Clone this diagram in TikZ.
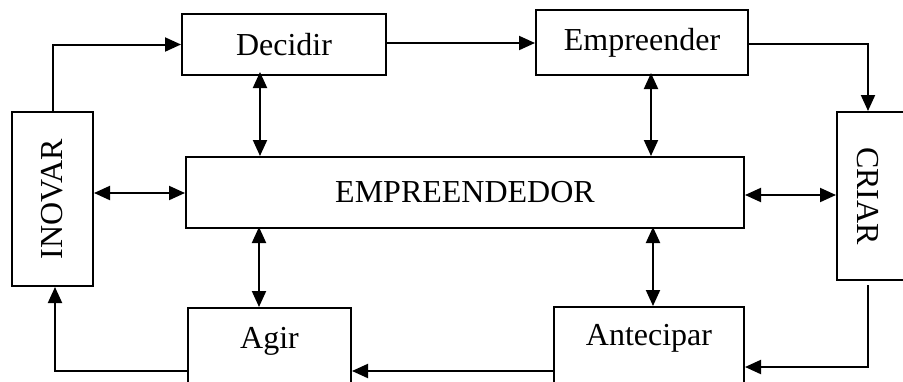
\documentclass[tikz,border=0pt]{standalone}
\usepackage{fontspec}
\setmainfont{Liberation Serif}
\usetikzlibrary{arrows.meta}
\begin{document}
\begin{tikzpicture}[x=1pt,y=-1pt,
  box/.style={draw, line width=2pt, inner sep=0pt, font=\fontsize{32}{36}\selectfont},
  lbl/.style={font=\fontsize{32}{36}\selectfont, inner sep=0pt},
  arr/.style={line width=2pt, -{Triangle[length=16pt,width=14pt]}},
  darr/.style={line width=2pt, {Triangle[length=16pt,width=14pt]}-{Triangle[length=16pt,width=14pt]}}]
\useasboundingbox (0,0) rectangle (903,381);
\clip (0,0) rectangle (903,381);
% boxes
\node[box, minimum width=204, minimum height=61] (dec) at (284,44.5) {Decidir};
\node[box, minimum width=212, minimum height=65] (emp) at (642,42.5) {Empreender};
\node[box, minimum width=174, minimum height=81, rotate=90] (inov) at (52.5,199) {INOVAR};
\node[box, minimum width=558, minimum height=71] (empr) at (465,192.5) {EMPREENDEDOR};
\node[box, minimum width=168, minimum height=70, rotate=-90] (criar) at (872,196) {};
\node[lbl, rotate=-90] (criart) at (868,196) {CRIAR};
\node[box, minimum width=163, minimum height=100] (agir) at (269.5,358) {};
\node[lbl] (agirt) at (269.5,341) {Agir};
\node[box, minimum width=190, minimum height=100] (ante) at (649,357) {};
\node[lbl] (antet) at (649,338) {Antecipar};
% flow arrows
\draw[arr] (inov.east) |- (dec.west);
\draw[arr] ([yshift=1.5]dec.east) -- ([yshift=1.5]dec.east -| emp.west);
\draw[arr] ([yshift=-1.5]emp.east) -| ([xshift=-4]criar.west);
\draw[arr] ([yshift=-4,xshift=-4]criar.east) |- ([yshift=-10]ante.east);
\draw[arr] ([yshift=-14]ante.west) -- ([yshift=-14]ante.west -| agir.east);
\draw[arr] ([yshift=-13]agir.west) -| ([xshift=2.5]inov.west);
% double arrows
\draw[darr] ([xshift=-24,yshift=4]dec.south) -- ([xshift=-24]dec.south |- empr.north);
\draw[darr] ([xshift=9,yshift=3]emp.south) -- ([xshift=9]emp.south |- empr.north);
\draw[darr] ([yshift=-0.5]inov.south |- empr.west) -- ([yshift=-0.5]empr.west);
\draw[darr] ([yshift=-2.5]empr.east) -- ([yshift=-2.5]empr.east -| criar.south);
\draw[darr] ([xshift=-206,yshift=2]empr.south) -- ([xshift=-206]empr.south |- agir.north);
\draw[darr] ([xshift=188,yshift=2]empr.south) -- ([xshift=188]empr.south |- ante.north);
\end{tikzpicture}
\end{document}
